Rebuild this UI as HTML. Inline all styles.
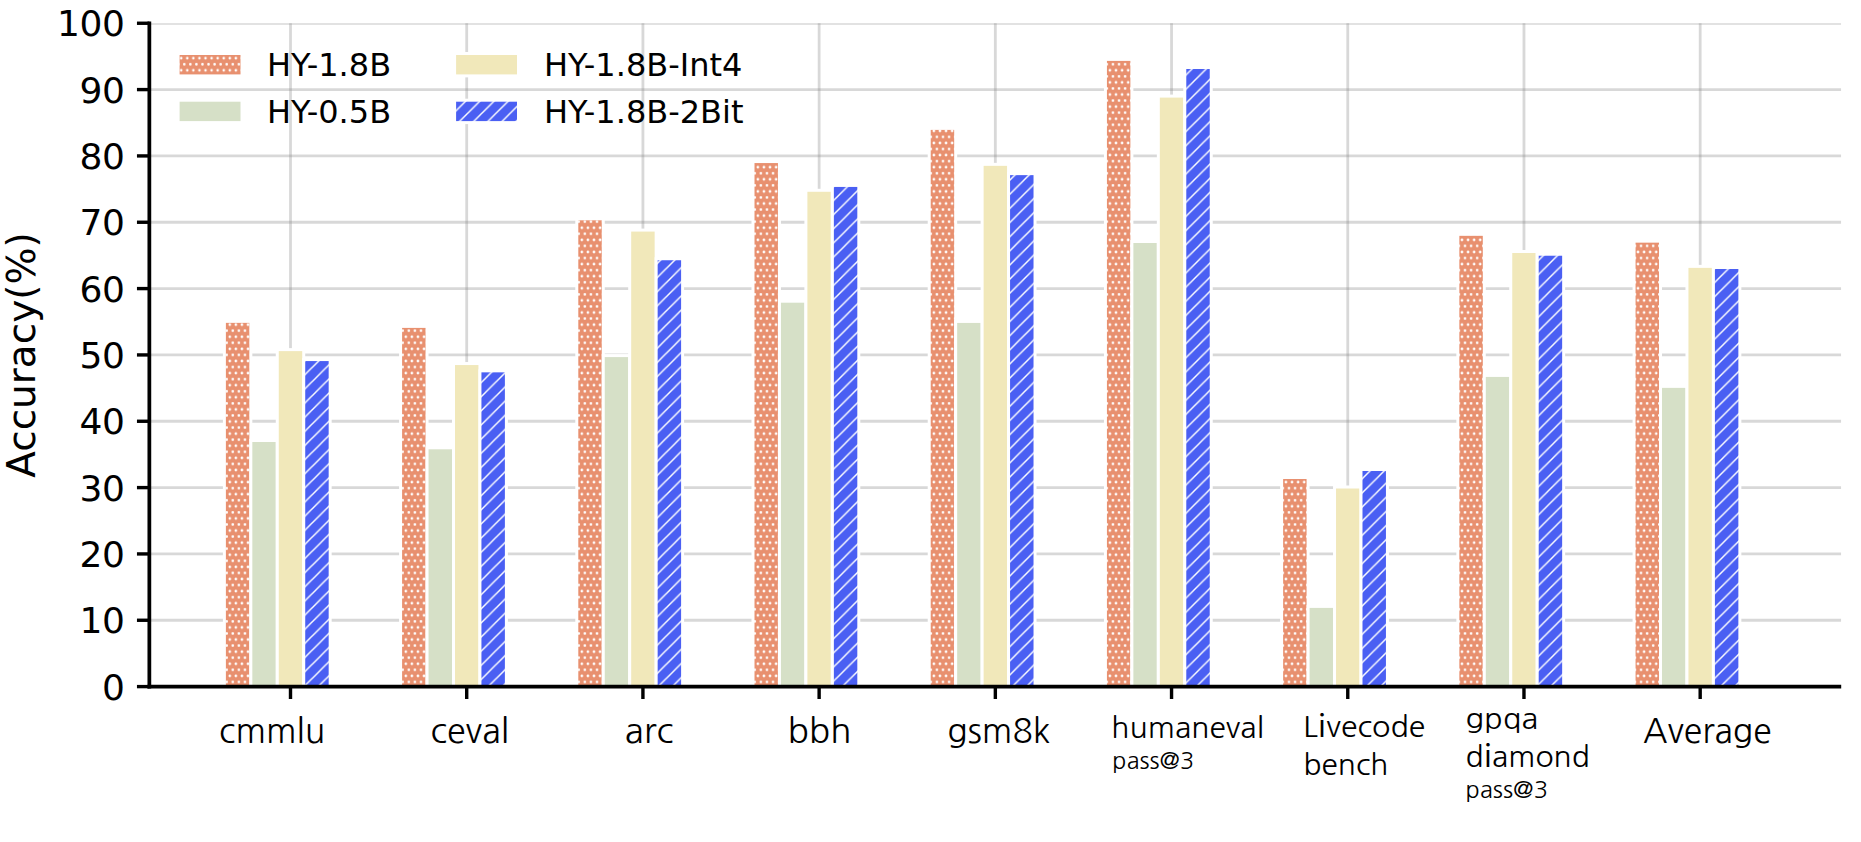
<!DOCTYPE html>
<html lang="en"><head><meta charset="utf-8"><title>Accuracy chart</title>
<style>html,body{margin:0;padding:0;background:#fff;overflow:hidden}svg{display:block}.tk{font-family:"DejaVu Sans","Liberation Sans",sans-serif;font-size:36px;fill:#000}.lg{font-family:"DejaVu Sans","Liberation Sans",sans-serif;font-size:32px;fill:#000}.yl{font-family:"DejaVu Sans","Liberation Sans",sans-serif;font-size:39px;fill:#000}.xl{font-family:"NanumGothic","Liberation Sans",sans-serif;fill:#000}.xi{font-family:"Noto Sans CJK SC","Liberation Sans",sans-serif;font-weight:350}</style></head><body>
<svg width="1861" height="842" viewBox="0 0 1861 842">
<defs>
<pattern id="dots" patternUnits="userSpaceOnUse" x="5.197" y="9.768" width="6.0699" height="12.1116">
<rect x="0" y="0" width="6.0699" height="12.1116" fill="#e8906f"/>
<circle cx="0.000" cy="0.000" r="1.3" fill="#fff"/>
<circle cx="6.070" cy="0.000" r="1.3" fill="#fff"/>
<circle cx="0.000" cy="12.112" r="1.3" fill="#fff"/>
<circle cx="6.070" cy="12.112" r="1.3" fill="#fff"/>
<circle cx="3.035" cy="6.056" r="1.3" fill="#fff"/>
</pattern>
<pattern id="lines" patternUnits="userSpaceOnUse" x="0.439" y="0" width="14.165" height="14.137">
<rect x="0" y="0" width="14.165" height="14.137" fill="#4a5ff3"/>
<path d="M-14.165 14.137 L14.165 -14.137 M0 14.137 L14.165 0 M0 28.274 L28.33 0" stroke="#fff" stroke-width="1.45" fill="none"/>
</pattern>
<clipPath id="ax"><rect x="149.35" y="23.25" width="1691.8500000000001" height="663.35"/></clipPath>
</defs>
<rect width="1861" height="842" fill="#fff"/>
<g clip-path="url(#ax)" stroke="rgba(128,128,128,0.31)" stroke-width="2.8" fill="none">
<line x1="290.50" y1="18.25" x2="290.50" y2="686.6"/>
<line x1="466.71" y1="18.25" x2="466.71" y2="686.6"/>
<line x1="642.92" y1="18.25" x2="642.92" y2="686.6"/>
<line x1="819.13" y1="18.25" x2="819.13" y2="686.6"/>
<line x1="995.34" y1="18.25" x2="995.34" y2="686.6"/>
<line x1="1171.55" y1="18.25" x2="1171.55" y2="686.6"/>
<line x1="1347.76" y1="18.25" x2="1347.76" y2="686.6"/>
<line x1="1523.97" y1="18.25" x2="1523.97" y2="686.6"/>
<line x1="1700.18" y1="18.25" x2="1700.18" y2="686.6"/>
<line x1="149.35" y1="686.60" x2="1841.2" y2="686.60"/>
<line x1="149.35" y1="620.26" x2="1841.2" y2="620.26"/>
<line x1="149.35" y1="553.93" x2="1841.2" y2="553.93"/>
<line x1="149.35" y1="487.60" x2="1841.2" y2="487.60"/>
<line x1="149.35" y1="421.26" x2="1841.2" y2="421.26"/>
<line x1="149.35" y1="354.93" x2="1841.2" y2="354.93"/>
<line x1="149.35" y1="288.59" x2="1841.2" y2="288.59"/>
<line x1="149.35" y1="222.25" x2="1841.2" y2="222.25"/>
<line x1="149.35" y1="155.92" x2="1841.2" y2="155.92"/>
<line x1="149.35" y1="89.59" x2="1841.2" y2="89.59"/>
<line x1="149.35" y1="23.25" x2="1841.2" y2="23.25"/>
</g>
<g stroke="#fff" stroke-width="3.0" stroke-linejoin="miter">
<rect x="224.38" y="321.36" width="26.45" height="365.24" fill="url(#dots)"/>
<rect x="250.83" y="440.50" width="26.45" height="246.10" fill="#d6e0c7"/>
<rect x="277.27" y="349.62" width="26.45" height="336.98" fill="#f1e8ba"/>
<rect x="303.72" y="359.57" width="26.45" height="327.03" fill="url(#lines)"/>
<rect x="400.59" y="326.40" width="26.45" height="360.20" fill="url(#dots)"/>
<rect x="427.04" y="447.79" width="26.45" height="238.81" fill="#d6e0c7"/>
<rect x="453.49" y="363.55" width="26.45" height="323.05" fill="#f1e8ba"/>
<rect x="479.94" y="370.85" width="26.45" height="315.75" fill="url(#lines)"/>
<rect x="576.80" y="218.81" width="26.45" height="467.79" fill="url(#dots)"/>
<rect x="603.25" y="355.59" width="26.45" height="331.01" fill="#d6e0c7"/>
<rect x="629.70" y="230.08" width="26.45" height="456.52" fill="#f1e8ba"/>
<rect x="656.15" y="258.74" width="26.45" height="427.86" fill="url(#lines)"/>
<rect x="753.00" y="161.56" width="26.45" height="525.04" fill="url(#dots)"/>
<rect x="779.45" y="301.19" width="26.45" height="385.41" fill="#d6e0c7"/>
<rect x="805.90" y="190.28" width="26.45" height="496.32" fill="#f1e8ba"/>
<rect x="832.36" y="185.44" width="26.45" height="501.16" fill="url(#lines)"/>
<rect x="929.22" y="128.39" width="26.45" height="558.21" fill="url(#dots)"/>
<rect x="955.66" y="321.43" width="26.45" height="365.17" fill="#d6e0c7"/>
<rect x="982.12" y="164.34" width="26.45" height="522.26" fill="#f1e8ba"/>
<rect x="1008.57" y="173.63" width="26.45" height="512.97" fill="url(#lines)"/>
<rect x="1105.43" y="59.40" width="26.45" height="627.20" fill="url(#dots)"/>
<rect x="1131.88" y="241.49" width="26.45" height="445.11" fill="#d6e0c7"/>
<rect x="1158.33" y="96.09" width="26.45" height="590.51" fill="#f1e8ba"/>
<rect x="1184.78" y="67.50" width="26.45" height="619.10" fill="url(#lines)"/>
<rect x="1281.63" y="477.51" width="26.45" height="209.09" fill="url(#dots)"/>
<rect x="1308.09" y="606.40" width="26.45" height="80.20" fill="#d6e0c7"/>
<rect x="1334.54" y="487.00" width="26.45" height="199.60" fill="#f1e8ba"/>
<rect x="1360.99" y="469.49" width="26.45" height="217.11" fill="url(#lines)"/>
<rect x="1457.85" y="234.33" width="26.45" height="452.27" fill="url(#dots)"/>
<rect x="1484.30" y="375.42" width="26.45" height="311.18" fill="#d6e0c7"/>
<rect x="1510.75" y="251.51" width="26.45" height="435.09" fill="#f1e8ba"/>
<rect x="1537.20" y="254.23" width="26.45" height="432.37" fill="url(#lines)"/>
<rect x="1634.06" y="241.16" width="26.45" height="445.44" fill="url(#dots)"/>
<rect x="1660.51" y="386.37" width="26.45" height="300.23" fill="#d6e0c7"/>
<rect x="1686.96" y="266.37" width="26.45" height="420.23" fill="#f1e8ba"/>
<rect x="1713.41" y="267.50" width="26.45" height="419.10" fill="url(#lines)"/>
</g>
<g stroke="#000" fill="none">
<path d="M149.35 21.38 L149.35 688.48" stroke-width="3.75"/>
<path d="M147.47 686.6 L1841.2 686.6" stroke-width="3.75"/>
<line x1="136.95" y1="686.60" x2="149.35" y2="686.60" stroke-width="3.4"/>
<line x1="136.95" y1="620.26" x2="149.35" y2="620.26" stroke-width="3.4"/>
<line x1="136.95" y1="553.93" x2="149.35" y2="553.93" stroke-width="3.4"/>
<line x1="136.95" y1="487.60" x2="149.35" y2="487.60" stroke-width="3.4"/>
<line x1="136.95" y1="421.26" x2="149.35" y2="421.26" stroke-width="3.4"/>
<line x1="136.95" y1="354.93" x2="149.35" y2="354.93" stroke-width="3.4"/>
<line x1="136.95" y1="288.59" x2="149.35" y2="288.59" stroke-width="3.4"/>
<line x1="136.95" y1="222.25" x2="149.35" y2="222.25" stroke-width="3.4"/>
<line x1="136.95" y1="155.92" x2="149.35" y2="155.92" stroke-width="3.4"/>
<line x1="136.95" y1="89.59" x2="149.35" y2="89.59" stroke-width="3.4"/>
<line x1="136.95" y1="23.25" x2="149.35" y2="23.25" stroke-width="3.4"/>
<line x1="290.50" y1="686.6" x2="290.50" y2="699.00" stroke-width="3.4"/>
<line x1="466.71" y1="686.6" x2="466.71" y2="699.00" stroke-width="3.4"/>
<line x1="642.92" y1="686.6" x2="642.92" y2="699.00" stroke-width="3.4"/>
<line x1="819.13" y1="686.6" x2="819.13" y2="699.00" stroke-width="3.4"/>
<line x1="995.34" y1="686.6" x2="995.34" y2="699.00" stroke-width="3.4"/>
<line x1="1171.55" y1="686.6" x2="1171.55" y2="699.00" stroke-width="3.4"/>
<line x1="1347.76" y1="686.6" x2="1347.76" y2="699.00" stroke-width="3.4"/>
<line x1="1523.97" y1="686.6" x2="1523.97" y2="699.00" stroke-width="3.4"/>
<line x1="1700.18" y1="686.6" x2="1700.18" y2="699.00" stroke-width="3.4"/>
</g>
<text class="tk" text-anchor="end" letter-spacing="-0.4" x="124.6" y="699.80">0</text>
<text class="tk" text-anchor="end" letter-spacing="-0.4" x="124.6" y="633.47">10</text>
<text class="tk" text-anchor="end" letter-spacing="-0.4" x="124.6" y="567.13">20</text>
<text class="tk" text-anchor="end" letter-spacing="-0.4" x="124.6" y="500.80">30</text>
<text class="tk" text-anchor="end" letter-spacing="-0.4" x="124.6" y="434.46">40</text>
<text class="tk" text-anchor="end" letter-spacing="-0.4" x="124.6" y="368.12">50</text>
<text class="tk" text-anchor="end" letter-spacing="-0.4" x="124.6" y="301.79">60</text>
<text class="tk" text-anchor="end" letter-spacing="-0.4" x="124.6" y="235.45">70</text>
<text class="tk" text-anchor="end" letter-spacing="-0.4" x="124.6" y="169.12">80</text>
<text class="tk" text-anchor="end" letter-spacing="-0.4" x="124.6" y="102.79">90</text>
<text class="tk" text-anchor="end" letter-spacing="-0.4" x="124.6" y="36.45">100</text>
<text class="yl" text-anchor="middle" transform="translate(35.0 355.03) rotate(-90)">Accuracy(%)</text>
<text class="xl" x="219.14" y="743.1" font-size="33.5" textLength="105.98" lengthAdjust="spacingAndGlyphs">cmmlu</text>
<text class="xl" x="430.52" y="743.1" font-size="33.5" textLength="78.48" lengthAdjust="spacingAndGlyphs">ceval</text>
<text class="xl" x="624.67" y="743.1" font-size="33.5" textLength="48.65" lengthAdjust="spacingAndGlyphs">arc</text>
<text class="xl" x="787.76" y="743.1" font-size="33.5" textLength="63.79" lengthAdjust="spacingAndGlyphs">bbh</text>
<text class="xl" x="947.19" y="743.1" font-size="33.5" textLength="103.16" lengthAdjust="spacingAndGlyphs">gsm8k</text>
<text class="xl" x="1111.39" y="738.0" font-size="29.3" textLength="152.55" lengthAdjust="spacingAndGlyphs">humaneval</text>
<text class="xl" x="1112.38" y="768.5" font-size="22.6" textLength="81.78" lengthAdjust="spacingAndGlyphs">pass@3</text>
<text class="xl" x="1303.16" y="736.6" font-size="29.3" textLength="122.12" lengthAdjust="spacingAndGlyphs">L<tspan class="xi" font-size="30.47">i</tspan>vecode</text>
<text class="xl" x="1303.45" y="774.5" font-size="29.3" textLength="85.00" lengthAdjust="spacingAndGlyphs">bench</text>
<text class="xl" x="1465.56" y="729.1" font-size="29.3" textLength="72.68" lengthAdjust="spacingAndGlyphs">gpqa</text>
<text class="xl" x="1465.62" y="767.2" font-size="29.3" textLength="124.11" lengthAdjust="spacingAndGlyphs">d<tspan class="xi" font-size="30.47">i</tspan>amond</text>
<text class="xl" x="1465.56" y="797.6" font-size="22.6" textLength="82.52" lengthAdjust="spacingAndGlyphs">pass@3</text>
<text class="xl" x="1642.99" y="742.5" font-size="33.5" textLength="128.67" lengthAdjust="spacingAndGlyphs">Average</text>
<rect x="178.10" y="53.50" width="63.9" height="22.4" fill="url(#dots)" stroke="#fff" stroke-width="3.0"/>
<rect x="178.10" y="100.20" width="63.9" height="22.4" fill="#d6e0c7" stroke="#fff" stroke-width="3.0"/>
<rect x="454.60" y="53.50" width="63.9" height="22.4" fill="#f1e8ba" stroke="#fff" stroke-width="3.0"/>
<rect x="454.60" y="100.20" width="63.9" height="22.4" fill="url(#lines)" stroke="#fff" stroke-width="3.0"/>
<text class="lg" x="266.9" y="76.2">HY-1.8B</text>
<text class="lg" x="266.9" y="122.9">HY-0.5B</text>
<text class="lg" x="544.0" y="76.2">HY-1.8B-Int4</text>
<text class="lg" x="544.0" y="122.9">HY-1.8B-2Bit</text>
</svg></body></html>
